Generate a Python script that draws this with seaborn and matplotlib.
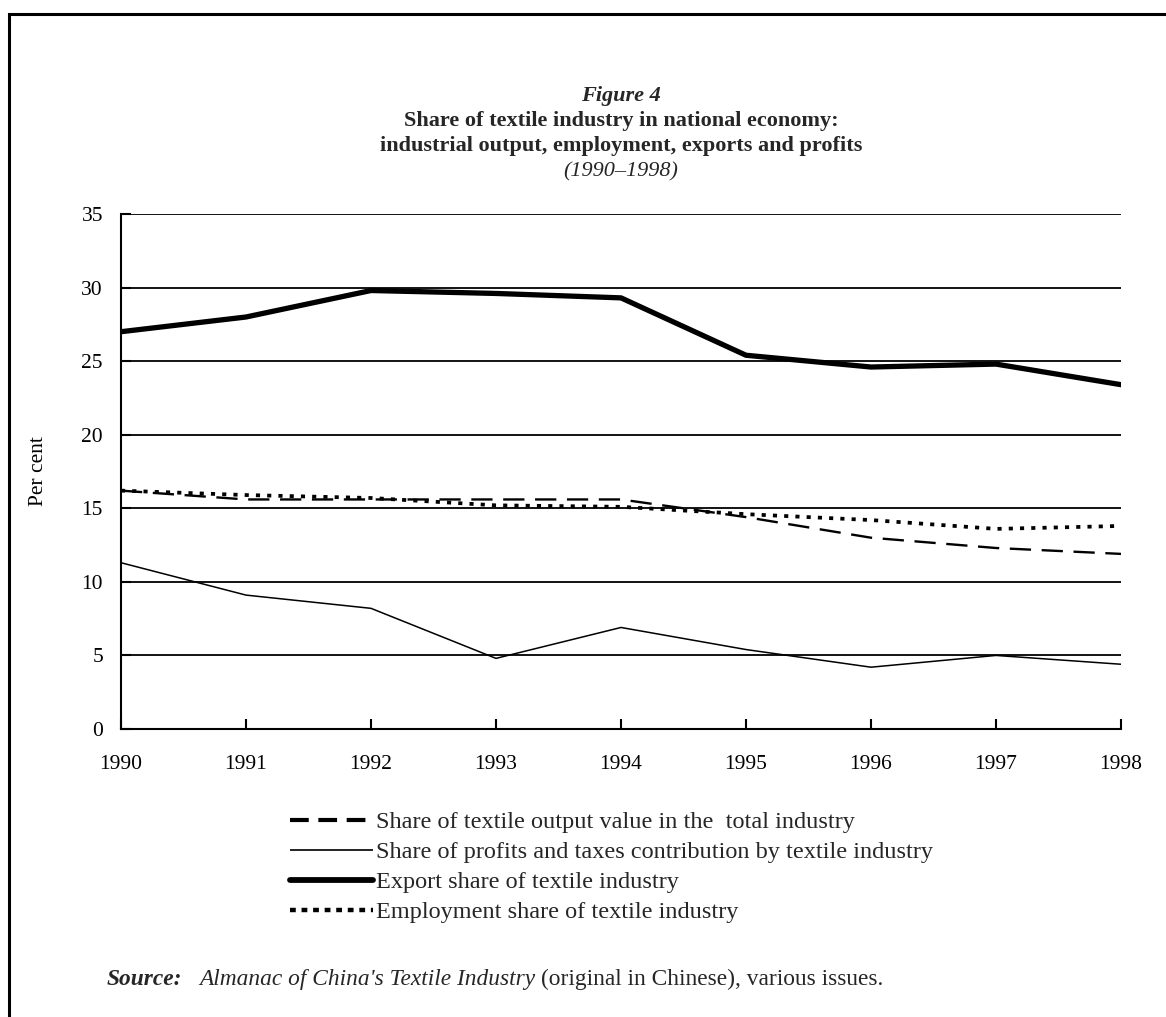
import matplotlib
matplotlib.use("Agg")
import matplotlib.pyplot as plt
import seaborn as sns
import pandas as pd
from matplotlib.lines import Line2D
from matplotlib.patches import Rectangle

years = [1990, 1991, 1992, 1993, 1994, 1995, 1996, 1997, 1998]
output_share = [16.2, 15.6, 15.6, 15.6, 15.6, 14.4, 13.0, 12.3, 11.9]
profits_share = [11.3, 9.1, 8.2, 4.8, 6.9, 5.4, 4.2, 5.0, 4.4]
export_share = [27.0, 28.0, 29.8, 29.6, 29.3, 25.4, 24.6, 24.8, 23.4]
employment_share = [16.2, 15.9, 15.7, 15.2, 15.1, 14.6, 14.2, 13.6, 13.8]

labels = [
    "Share of textile output value in the  total industry",
    "Share of profits and taxes contribution by textile industry",
    "Export share of textile industry",
    "Employment share of textile industry",
]
yticks = [0, 5, 10, 15, 20, 25, 30, 35]

sns.set_theme(style="white")
plt.rcParams['font.family'] = ['Liberation Serif', 'DejaVu Serif']

W, H = 1166, 1017
fig = plt.figure(figsize=(W / 100, H / 100), dpi=100)
ax = fig.add_axes([121 / W, 1 - 729 / H, (1121 - 121) / W, (729 - 214) / H])

df = pd.DataFrame({"year": years})
styles = [
    (output_share, dict(lw=1.7, dashes=(9, 4.5))),
    (profits_share, dict(lw=1.1)),
    (export_share, dict(lw=3.8)),
    (employment_share, dict(lw=2.7, dashes=(1.1, 1.9))),
]
handles = []
for (vals, st), lab in zip(styles, labels):
    d = df.assign(v=vals)
    sns.lineplot(data=d, x="year", y="v", ax=ax, color="black",
                 linewidth=st["lw"], legend=False)
    ln = ax.lines[-1]
    ln.set_solid_capstyle("round" if st["lw"] > 3 else "butt")
    if "dashes" in st:
        ln.set_dashes(st["dashes"])
        ln.set_dash_capstyle("butt")
    if st["lw"] < 2 and "dashes" in st:
        h = Line2D([], [], color="black", linewidth=3.0, dashes=(4.5, 2.3),
                   dash_capstyle="butt")
    elif "dashes" in st:
        h = Line2D([], [], color="black", linewidth=3.2, dashes=(1.3, 1.3),
                   dash_capstyle="butt")
    else:
        h = Line2D([], [], color="black", linewidth=st["lw"] * 1.1,
                   solid_capstyle="round" if st["lw"] > 3 else "butt")
    handles.append(h)

ax.set_xlim(1990, 1998)
ax.set_ylim(0, 35)
ax.set_yticks(yticks)
ax.set_xticks(years)
ax.set_xticklabels([str(y) for y in years])
for y in yticks[1:]:
    ax.axhline(y, color="black", lw=1.3, zorder=0)
for s in ["top", "right"]:
    ax.spines[s].set_visible(False)
for s in ["left", "bottom"]:
    ax.spines[s].set_color("black")
    ax.spines[s].set_linewidth(1.5)
ax.tick_params(axis="both", direction="in", length=7, width=1.5, color="black",
               labelsize=15.5, labelcolor="black", left=True, bottom=True)
ax.tick_params(axis="x", pad=19)
ax.tick_params(axis="y", pad=13)
ax.set_xlabel("")
ax.set_ylabel("Per cent", fontsize=15.5, color="black", labelpad=24)

cx = 621 / W
fs_t = 16
fig.text(cx, 1 - 96 / H, "Figure 4", ha="center", va="center", fontsize=fs_t,
         fontweight="bold", fontstyle="italic")
fig.text(cx, 1 - 121 / H, "Share of textile industry in national economy:", ha="center",
         va="center", fontsize=fs_t, fontweight="bold")
fig.text(cx, 1 - 146 / H, "industrial output, employment, exports and profits", ha="center",
         va="center", fontsize=fs_t, fontweight="bold")
fig.text(cx, 1 - 172 / H, "(1990\u20131998)", ha="center", va="center", fontsize=fs_t,
         fontstyle="italic")

leg = fig.legend(handles, labels, loc="upper left", bbox_to_anchor=(290 / W, 1 - 811 / H),
                 frameon=False, fontsize=17.5, handlelength=3.4, handletextpad=0.15,
                 labelspacing=0.33, borderaxespad=0, borderpad=0)

fs_s = 16.8
t1 = fig.text(107 / W, 1 - 990 / H, "Source:", ha="left", va="bottom", fontsize=fs_s,
              fontweight="bold", fontstyle="italic")
a2 = fig.add_artist(plt.Annotation("Almanac of China's Textile Industry", xy=(1, 0),
                                    xycoords=t1, xytext=(12, 0), textcoords="offset points",
                                    ha="left", va="bottom", fontsize=fs_s, fontstyle="italic"))
fig.add_artist(plt.Annotation("(original in Chinese), various issues.", xy=(1, 0),
                              xycoords=a2, xytext=(4, 0), textcoords="offset points",
                              ha="left", va="bottom", fontsize=fs_s))

fig.patches.append(Rectangle((9 / W, -0.1), 1.2, (1017 - 14) / H + 0.1,
                             transform=fig.transFigure, fill=False, edgecolor="black",
                             linewidth=2.2))

fig.savefig("out.png", dpi=100, facecolor="white")
